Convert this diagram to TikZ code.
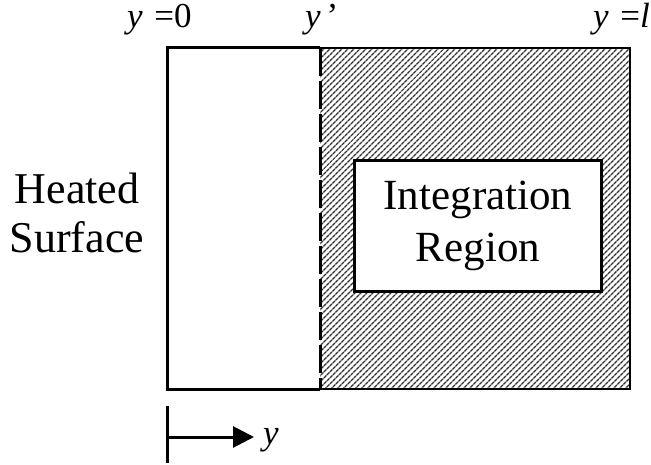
\documentclass[tikz,border=0pt]{standalone}
\usepackage{fontspec}
\setmainfont{Liberation Serif}
\usetikzlibrary{arrows.meta,patterns.meta,positioning}

\begin{document}
\begin{tikzpicture}[x=1pt,y=-1pt,
    wall/.style={line width=3pt},
    rim/.style={line width=1.5pt},
    hatch/.style={pattern={Lines[angle=45,distance=4pt,line width=1.5pt]},pattern color=black!80},
    lbl/.style={font=\fontsize{35}{40}\selectfont,inner sep=0pt},
    big/.style={font=\fontsize{44}{49}\selectfont,align=center,inner sep=0pt},
    arr/.style={-{Triangle[length=21pt,width=21pt]},line width=3pt}
]
\useasboundingbox (0,0) rectangle (651,465);
% corners of the slab
\coordinate (nw) at (167,48);
\coordinate (sw) at (167,389);
\coordinate (ne) at (630,48);
\coordinate (se) at (630,389);
\coordinate (dtop) at (320,48);
\coordinate (dbot) at (320,389);
% hatched part
\fill[hatch] (dtop) rectangle (se);
\draw[rim] (dtop) -- (ne) -- (se) -- (dbot);
% heated part
\draw[wall] (dtop) -- (nw) -- (sw) -- (dbot);
\draw[wall,dash pattern=on 28pt off 5pt] (dtop) -- (dbot);
\node[draw,wall,fill=white,minimum width=247pt,minimum height=131pt,big,font=\fontsize{43}{52}\selectfont] (intreg) at (478,226) {Integration\\Region};
\node[big] (heated) at (77,213) {Heated\\Surface};
% labels on top
\node[lbl,anchor=base west] (yzero) at (127,28) {\textit{y}\,\,=0};
\node[lbl,anchor=base west] (yprime) at (305,28) {\textit{y}\,’};
\node[lbl,anchor=base east] (yell) at (650,28) {\textit{y}\,\,=\textit{l}};
% direction of y
\coordinate (t1) at (167,406);
\coordinate (t2) at (167,463);
\coordinate (o) at (167,437);
\coordinate (tip) at (254,437);
\draw[wall] (t1) -- (t2);
\draw[arr] (o) -- (tip);
\node[lbl,anchor=base west] (ylab) at (263,444) {\textit{y}};
\end{tikzpicture}
\end{document}
